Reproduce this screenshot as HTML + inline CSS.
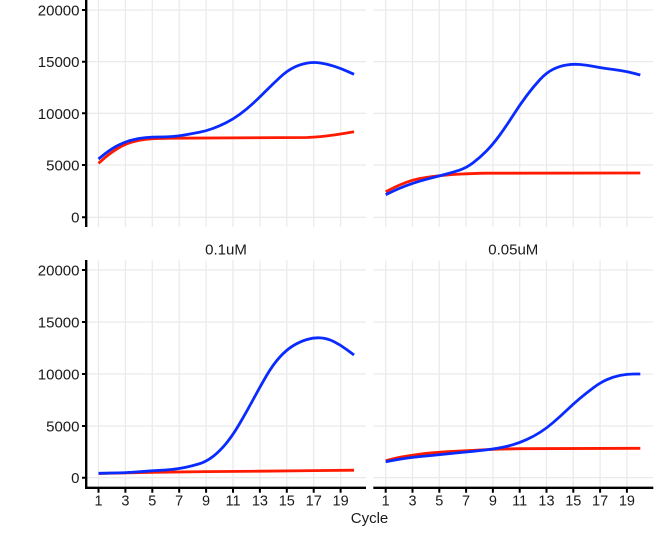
<!DOCTYPE html>
<html>
<head>
<meta charset="utf-8">
<style>
  html, body { margin: 0; padding: 0; background: #ffffff; }
  svg { display: block; }
  text { font-family: "Liberation Sans", "DejaVu Sans", sans-serif; fill: #1a1a1a; }
</style>
</head>
<body>
<svg width="672" height="534" viewBox="0 0 672 534" xmlns="http://www.w3.org/2000/svg">
  <rect x="0" y="0" width="672" height="534" fill="#ffffff"/>

  <g stroke="#ebebeb" stroke-width="1.3" fill="none">
    <path d="M86,10H366M86,61.7H366M86,113.3H366M86,165H366M86,217.3H366"/>
    <path d="M373.3,10H653.3M373.3,61.7H653.3M373.3,113.3H653.3M373.3,165H653.3M373.3,217.3H653.3"/>
    <path d="M86,270H366M86,322H366M86,374H366M86,426H366M86,477.7H366"/>
    <path d="M373.3,270H653.3M373.3,322H653.3M373.3,374H653.3M373.3,426H653.3M373.3,477.7H653.3"/>
    <path d="M98.5,0V227M125.4,0V227M152.3,0V227M179.2,0V227M206.1,0V227M233,0V227M259.9,0V227M286.8,0V227M313.7,0V227M340.6,0V227"/>
    <path d="M385.7,0V227M412.5,0V227M439.3,0V227M466.1,0V227M492.9,0V227M519.7,0V227M546.5,0V227M573.3,0V227M600.1,0V227M626.9,0V227"/>
    <path d="M98.5,260.5V487M125.4,260.5V487M152.3,260.5V487M179.2,260.5V487M206.1,260.5V487M233,260.5V487M259.9,260.5V487M286.8,260.5V487M313.7,260.5V487M340.6,260.5V487"/>
    <path d="M385.7,260.5V487M412.5,260.5V487M439.3,260.5V487M466.1,260.5V487M492.9,260.5V487M519.7,260.5V487M546.5,260.5V487M573.3,260.5V487M600.1,260.5V487M626.9,260.5V487"/>
  </g>

  <g fill="none" stroke-width="2.8" stroke-linejoin="round" stroke-linecap="butt">
    <path stroke="#ff1a00" d="M98.5,163.3 L105.2,157.5 Q111.95,151.7 118.7,147.85 Q125.4,144 132.1,142 Q138.85,140 145.6,139.35 Q152.3,138.7 159,138.5 Q165.75,138.3 172.5,138.2 L306.975,137.5 Q313.7,137.2 320.4,136.6 Q327.15,136 333.9,135 Q340.6,134 347.3,132.85 L354.05,131.7"/>
    <path stroke="#0a2bff" d="M98.5,159 L105.2,153.65 Q111.95,148.3 118.7,145 Q125.4,141.7 132.1,140 Q138.85,138.3 145.6,137.65 Q152.3,137 159,137 Q165.75,137 172.5,136.5 Q179.2,136 185.9,134.75 Q192.65,133.5 199.4,132.25 Q206.1,131 212.8,128.5 Q219.55,126 226.3,122.65 Q233,119.3 239.7,114.4 Q246.45,109.5 253.2,103.25 Q259.9,97 266.6,90.25 Q273.35,83.5 280.1,77.25 Q286.8,71 293.5,67.65 Q300.25,64.3 307,63.15 Q313.7,62 320.4,63 Q327.15,64 333.9,66.15 Q340.6,68.3 347.3,71.3 L354.05,74.3"/>

    <path stroke="#ff1a00" d="M385.7,191.7 L392.4,188.35 Q399.1,185 405.8,182.5 Q412.5,180 419.2,178.65 Q425.9,177.3 432.6,176.5 Q439.3,175.7 446,175.1 Q452.7,174.5 459.4,174.15 Q466.1,173.8 472.8,173.55 Q479.5,173.3 486.2,173.2 L640.3,173"/>
    <path stroke="#0a2bff" d="M385.7,194.7 L392.4,191.5 Q399.1,188.3 405.8,185.8 Q412.5,183.3 419.2,181.3 Q425.9,179.3 432.6,177.65 Q439.3,176 446,174.15 Q452.7,172.3 459.4,170.15 Q466.1,168 472.8,163 Q479.5,158 486.2,151.25 Q492.9,144.5 499.6,135.25 Q506.3,126 513,115.5 Q519.7,105 526.4,96 Q533.1,87 539.8,79.75 Q546.5,72.5 553.2,69.25 Q559.9,66 566.6,65 Q573.3,64 580,64.5 Q586.7,65 593.4,66.35 Q600.1,67.7 606.8,68.6 Q613.5,69.5 620.2,70.5 Q626.9,71.5 633.6,73.25 L640.3,75"/>

    <polyline stroke="#ff1a00" points="98.5,473.5 152.3,472.3 206.1,471.6 259.9,471.2 313.7,470.6 354.05,470.2"/>
    <path stroke="#0a2bff" d="M98.5,473.3 L105.2,473.2 Q111.95,473.1 118.7,472.9 Q125.4,472.7 132.1,472.25 Q138.85,471.8 145.6,471.3 Q152.3,470.8 159,470.4 Q165.75,470 172.5,469.35 Q179.2,468.7 185.9,467.25 Q192.65,465.8 199.4,463.75 Q206.1,461.7 212.8,456.6 Q219.55,451.5 226.3,443.25 Q233,435 239.7,423.5 Q246.45,412 253.2,399.5 Q259.9,387 266.6,375.5 Q273.35,364 280.1,356.75 Q286.8,349.5 293.5,345.5 Q300.25,341.5 307,339.5 Q313.7,337.5 320.4,337.9 Q327.15,338.3 333.9,341.65 Q340.6,345 347.3,350 L354.05,355"/>

    <path stroke="#ff1a00" d="M385.7,460.7 L392.4,459 Q399.1,457.3 405.8,456.3 Q412.5,455.3 419.2,454.3 Q425.9,453.3 432.6,452.8 Q439.3,452.3 446,451.8 Q452.7,451.3 459.4,451 Q466.1,450.7 472.8,450.35 Q479.5,450 486.2,449.65 Q492.9,449.3 499.6,449.15 L519.7,448.7 L640.3,448.3"/>
    <path stroke="#0a2bff" d="M385.7,461.7 L392.4,460.5 Q399.1,459.3 405.8,458.3 Q412.5,457.3 419.2,456.65 Q425.9,456 432.6,455.35 Q439.3,454.7 446,454 Q452.7,453.3 459.4,452.65 Q466.1,452 472.8,451.35 Q479.5,450.7 486.2,449.85 Q492.9,449 499.6,447.85 Q506.3,446.7 513,444.7 Q519.7,442.7 526.4,439.7 Q533.1,436.7 539.8,432.5 Q546.5,428.3 553.2,422.5 Q559.9,416.7 566.6,410.35 Q573.3,404 580,398.35 Q586.7,392.7 593.4,387.7 Q600.1,382.7 606.8,379.7 Q613.5,376.7 620.2,375.35 Q626.9,374 633.6,374 L640.3,374"/>
  </g>

  <g stroke="#000000" fill="none">
    <line x1="86.2" y1="0" x2="86.2" y2="227" stroke-width="2.4"/>
    <line x1="86.2" y1="260" x2="86.2" y2="489" stroke-width="2.4"/>
    <line x1="85" y1="487.8" x2="366" y2="487.8" stroke-width="2.4"/>
    <line x1="373.3" y1="487.8" x2="653.3" y2="487.8" stroke-width="2.4"/>
    <path stroke-width="2" d="M82,10H86M82,61.7H86M82,113.3H86M82,165H86M82,217.3H86M82,270H86M82,322H86M82,374H86M82,426H86M82,477.7H86"/>
    <path stroke-width="2" d="M98.5,488V492.8M125.4,488V492.8M152.3,488V492.8M179.2,488V492.8M206.1,488V492.8M233,488V492.8M259.9,488V492.8M286.8,488V492.8M313.7,488V492.8M340.6,488V492.8M385.7,488V492.8M412.5,488V492.8M439.3,488V492.8M466.1,488V492.8M492.9,488V492.8M519.7,488V492.8M546.5,488V492.8M573.3,488V492.8M600.1,488V492.8M626.9,488V492.8"/>
  </g>

  <g font-size="15" text-anchor="end">
    <text x="79.5" y="15.5">20000</text>
    <text x="79.5" y="67.1">15000</text>
    <text x="79.5" y="118.8">10000</text>
    <text x="79.5" y="170.4">5000</text>
    <text x="79.5" y="222.7">0</text>
    <text x="79.5" y="275.4">20000</text>
    <text x="79.5" y="327.4">15000</text>
    <text x="79.5" y="379.4">10000</text>
    <text x="79.5" y="431.4">5000</text>
    <text x="79.5" y="483.1">0</text>
  </g>

  <g font-size="14.5" text-anchor="middle">
    <text x="98.5" y="505.7">1</text>
    <text x="125.4" y="505.7">3</text>
    <text x="152.3" y="505.7">5</text>
    <text x="179.2" y="505.7">7</text>
    <text x="206.1" y="505.7">9</text>
    <text x="233" y="505.7">11</text>
    <text x="259.9" y="505.7">13</text>
    <text x="286.8" y="505.7">15</text>
    <text x="313.7" y="505.7">17</text>
    <text x="340.6" y="505.7">19</text>
    <text x="385.7" y="505.7">1</text>
    <text x="412.5" y="505.7">3</text>
    <text x="439.3" y="505.7">5</text>
    <text x="466.1" y="505.7">7</text>
    <text x="492.9" y="505.7">9</text>
    <text x="519.7" y="505.7">11</text>
    <text x="546.5" y="505.7">13</text>
    <text x="573.3" y="505.7">15</text>
    <text x="600.1" y="505.7">17</text>
    <text x="626.9" y="505.7">19</text>
  </g>

  <g font-size="15" text-anchor="middle">
    <text x="226" y="254.3">0.1uM</text>
    <text x="513.3" y="254.3">0.05uM</text>
    <text x="369.5" y="523">Cycle</text>
  </g>
</svg>
</body>
</html>
